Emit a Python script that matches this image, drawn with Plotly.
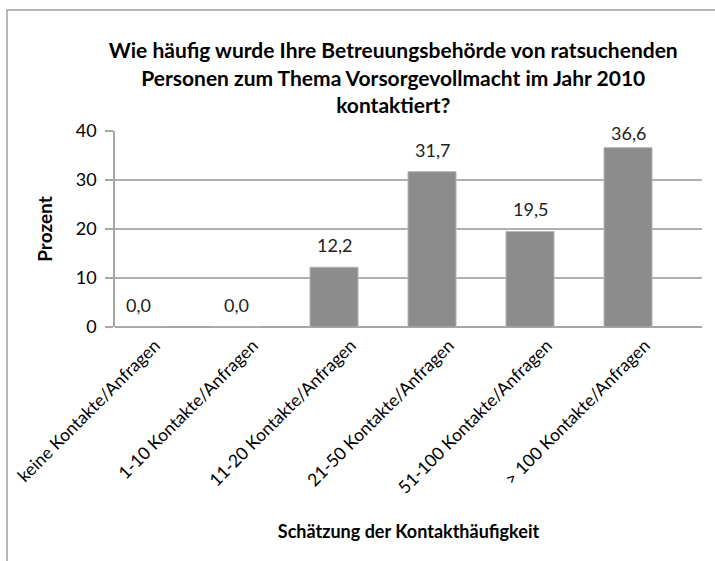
import plotly.graph_objects as go

categories = ["keine Kontakte/Anfragen", "1-10 Kontakte/Anfragen", "11-20 Kontakte/Anfragen",
              "21-50 Kontakte/Anfragen", "51-100 Kontakte/Anfragen", "> 100 Kontakte/Anfragen"]
values = [0.0, 0.0, 12.2, 31.7, 19.5, 36.6]
y_ticks = [0, 10, 20, 30, 40]

title_text = ("Wie häufig wurde Ihre Betreuungsbehörde von ratsuchenden<br>"
              "Personen zum Thema Vorsorgevollmacht im Jahr 2010<br>kontaktiert?")

FONT = "Lato, Open Sans, sans-serif"
Y_MAX = 40
PLOT_H = 196          # plot-area height in px
LABEL_H = 15          # approx. data-label height in px
px_per_unit = PLOT_H / Y_MAX

fig = go.Figure()
fig.add_trace(go.Bar(
    x=list(range(len(categories))),
    y=values,
    width=0.49,
    marker=dict(color="#8c8c8c", line=dict(color="#b4b4b4", width=1)),
    cliponaxis=False,
))

# data labels (Excel-style: above bar, kept inside the plot area)
for i, v in enumerate(values):
    room = (Y_MAX - v) * px_per_unit - LABEL_H
    fig.add_annotation(
        x=i, y=v, xref="x", yref="y",
        text=f"{v:.1f}".replace(".", ","),
        showarrow=False, yanchor="bottom", xanchor="center",
        yshift=max(0, min(9, room)),
        font=dict(family=FONT, size=18, color="#222222"),
    )

fig.update_layout(
    width=715, height=561,
    margin=dict(l=115, r=13, t=131, b=234, autoexpand=False),
    paper_bgcolor="white", plot_bgcolor="white",
    showlegend=False,
    title=dict(text=title_text, x=0.55, xanchor="center", y=0.896, yanchor="top",
               font=dict(family=FONT, size=21, color="#000000", weight="bold")),
    font=dict(family=FONT, color="#000000"),
    xaxis=dict(
        tickmode="array", tickvals=list(range(len(categories))), ticktext=categories,
        range=[-0.235, 5.755], tickangle=-45, automargin=False,
        ticklabeloverflow="allow", ticklabelshift=17, ticklabelstandoff=4,
        tickfont=dict(family=FONT, size=17.5, color="#000000"),
        showgrid=False, zeroline=False, showline=False, ticks="",
        title=dict(text="<b>Schätzung der Kontakthäufigkeit</b>",
                   font=dict(family=FONT, size=18, color="#000000"), standoff=28),
    ),
    yaxis=dict(
        range=[0, Y_MAX], tickvals=y_ticks, ticks="outside", ticklen=8, tickcolor="#a6a6a6",
        tickwidth=1.5, automargin=False, ticklabelstandoff=5,
        tickfont=dict(family=FONT, size=18, color="#000000"),
        showgrid=True, gridcolor="#b0b0b0", gridwidth=1.5,
        showline=True, linecolor="#a6a6a6", linewidth=1.5,
        zeroline=True, zerolinecolor="#a6a6a6", zerolinewidth=1.5,
        title=dict(text="<b>Prozent</b>", font=dict(family=FONT, size=19, color="#000000"),
                   standoff=18),
    ),
)

# chart-area border (decoration)
fig.add_shape(type="rect", xref="paper", yref="paper",
              x0=(7 - 115) / 587, x1=(730 - 115) / 587,
              y0=(327 - 580) / 196, y1=(327 - 10) / 196,
              line=dict(color="#a0a0a0", width=1.5), fillcolor="rgba(0,0,0,0)", layer="below")

fig.write_html("out.html", config={"displayModeBar": False},
               post_script="document.body.style.margin='0';")
